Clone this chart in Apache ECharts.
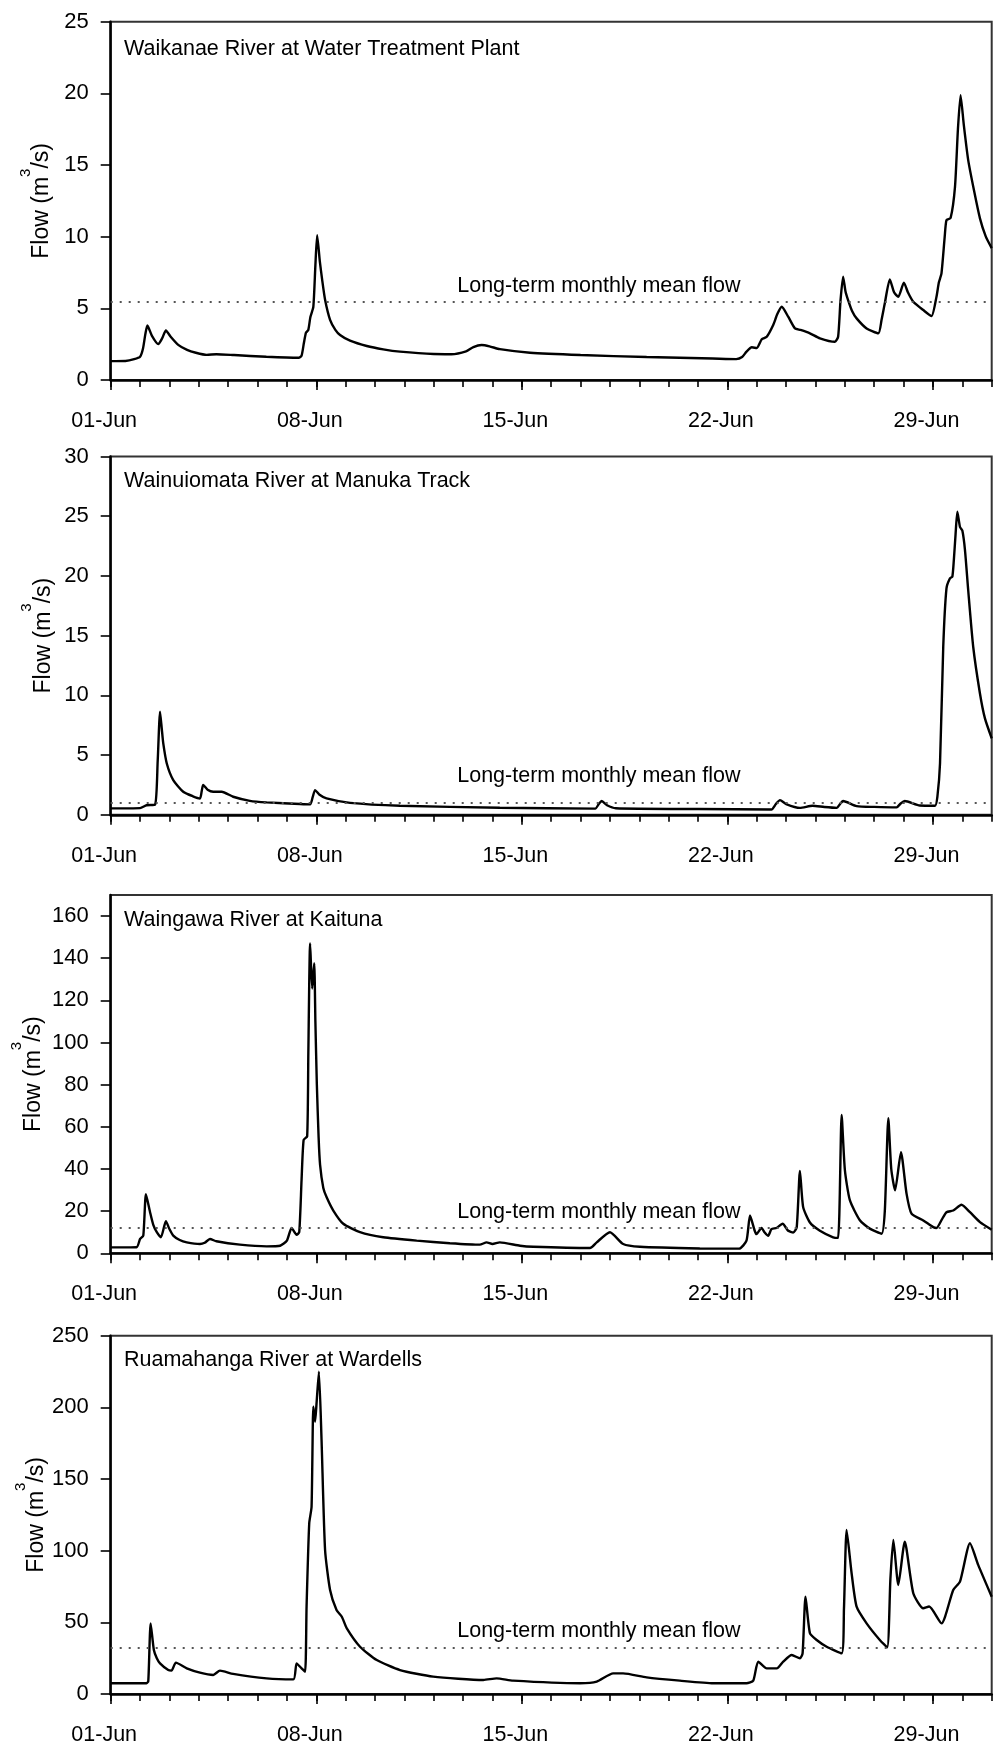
<!DOCTYPE html>
<html><head><meta charset="utf-8">
<script src="https://cdn.jsdelivr.net/npm/echarts@6/dist/echarts.min.js"></script>
<style>html,body{margin:0;padding:0;background:#fff}#c{width:996px;height:1751px}</style>
</head><body><div id="c"></div>
<script>
// ---------- data ----------
const stationNames = [
  'Waikanae River at Water Treatment Plant',
  'Wainuiomata River at Manuka Track',
  'Waingawa River at Kaituna',
  'Ruamahanga River at Wardells'
];
const dateLabels = ['01-Jun', '08-Jun', '15-Jun', '22-Jun', '29-Jun'];
const dateLabelDays = [0, 7, 14, 21, 28];   // days after 01-Jun 00:00
const meanLabel = 'Long-term monthly mean flow';
const meanFlows = [5.45, 1.05, 12, 32.5];
const yMax = [25, 30, 170, 250];
const yTicksWaikanae = [0, 5, 10, 15, 20, 25];
const yTicksWainuiomata = [0, 5, 10, 15, 20, 25, 30];
const yTicksWaingawa = [0, 20, 40, 60, 80, 100, 120, 140, 160];
const yTicksRuamahanga = [0, 50, 100, 150, 200, 250];

// [day since 01-Jun 00:00, flow m3/s]
const waikanae = [
  [0,1.32],[0.5,1.33],[0.8,1.45],[1.0,1.62],[1.1,2.2],[1.18,3.2],[1.25,3.8],[1.4,3.1],[1.62,2.5],[1.75,2.9],
  [1.88,3.45],[2.05,3.0],[2.3,2.45],[2.6,2.1],[2.9,1.9],[3.27,1.75],[3.6,1.8],[4.2,1.74],[5.3,1.62],[6.4,1.55],
  [6.5,1.7],[6.58,2.6],[6.65,3.3],[6.73,3.5],[6.8,4.4],[6.9,5.1],[6.97,8.0],[7.03,10.1],[7.12,8.3],[7.2,7.0],
  [7.3,5.6],[7.47,4.2],[7.65,3.5],[7.81,3.14],[8.15,2.74],[8.72,2.37],[9.28,2.14],[9.85,1.98],[11.0,1.81],[11.6,1.8],
  [12.1,2.0],[12.35,2.3],[12.63,2.44],[12.9,2.35],[13.25,2.15],[14.28,1.9],[16.0,1.74],[18.25,1.6],[20.5,1.5],[21.3,1.46],
  [21.5,1.6],[21.65,1.98],[21.83,2.28],[22.0,2.23],[22.17,2.84],[22.34,3.02],[22.56,3.84],[22.7,4.6],[22.85,5.11],[23.07,4.42],
  [23.3,3.6],[23.49,3.49],[23.81,3.26],[24.15,2.91],[24.66,2.67],[24.77,3.02],[24.85,5.5],[24.94,7.21],[25.02,6.2],[25.11,5.58],
  [25.25,4.8],[25.4,4.3],[25.74,3.6],[26.14,3.26],[26.25,4.2],[26.36,5.35],[26.53,7.02],[26.68,6.1],[26.82,5.81],[27.01,6.79],
  [27.15,6.1],[27.33,5.46],[27.67,4.88],[27.95,4.46],[28.12,5.81],[28.2,6.8],[28.29,7.44],[28.4,10.0],[28.46,11.16],[28.6,11.3],
  [28.75,13.48],[28.85,17.5],[28.94,19.87],[29.05,17.8],[29.2,15.34],[29.4,13.2],[29.6,11.28],[29.8,10.0],[30,9.2]
];
const wainuiomata = [
  [0,0.54],[1.0,0.56],[1.22,0.8],[1.51,0.85],[1.6,4.5],[1.68,8.63],[1.74,7.2],[1.79,5.98],[1.91,4.3],[2.13,2.91],
  [2.47,1.93],[2.8,1.55],[3.04,1.37],[3.1,2.0],[3.15,2.49],[3.3,2.1],[3.49,1.93],[3.78,1.93],[4.17,1.51],[4.74,1.17],
  [5.31,1.04],[6.45,0.9],[6.79,0.87],[6.88,1.5],[6.96,2.07],[7.1,1.7],[7.35,1.37],[8.15,1.0],[9.85,0.76],[13.25,0.59],
  [16.5,0.52],[16.62,0.9],[16.72,1.15],[16.9,0.8],[17.2,0.55],[20,0.48],[22.5,0.45],[22.65,0.9],[22.79,1.23],[23.0,0.9],
  [23.47,0.58],[23.9,0.76],[24.3,0.65],[24.72,0.58],[24.85,0.95],[24.94,1.15],[25.4,0.73],[26.0,0.66],[26.76,0.62],[26.9,0.95],
  [27.04,1.15],[27.55,0.78],[28.07,0.76],[28.15,1.5],[28.24,4.3],[28.35,14.07],[28.46,18.96],[28.58,19.8],[28.66,19.94],[28.71,21.3],
  [28.77,23.5],[28.83,25.38],[28.92,24.1],[29.0,23.8],[29.09,22.17],[29.2,18.8],[29.37,14.07],[29.6,10.16],[29.77,8.07],[30,6.4]
];
const waingawa = [
  [0,2.8],[0.88,2.9],[1.0,6.8],[1.11,8.4],[1.2,28],[1.34,19.5],[1.45,13.5],[1.57,10],[1.71,7.6],[1.88,15.2],
  [2.0,11.5],[2.13,8.4],[2.35,6.3],[2.59,5.2],[3.04,4.4],[3.2,5.0],[3.38,6.8],[3.6,5.7],[4.4,4.1],[5.31,3.3],
  [5.77,3.6],[6.0,6.0],[6.16,12.0],[6.33,8.8],[6.42,10],[6.5,35],[6.57,53.8],[6.69,55.5],[6.73,95],[6.79,147],
  [6.86,125.6],[6.93,137.6],[6.97,110],[7.02,80],[7.08,55],[7.13,42],[7.24,31],[7.35,26.7],[7.58,20.3],[7.92,14.0],
  [8.49,10],[9.28,7.6],[10.42,6.0],[11.55,4.8],[12.57,4.1],[12.8,5.2],[13.0,4.4],[13.25,5.2],[13.94,3.6],[14.39,3.1],
  [16.32,2.5],[16.55,5.2],[17.0,10.0],[17.45,4.4],[18.02,3.1],[20.06,2.3],[21.4,2.2],[21.65,6.0],[21.77,17.9],[21.93,10.7],
  [21.99,9.1],[22.16,12.0],[22.27,9.9],[22.39,8.3],[22.5,11.5],[22.67,12.0],[22.88,14.0],[23.07,10.7],[23.24,9.9],[23.36,12.3],
  [23.47,39.1],[23.58,21.9],[23.81,14.6],[24.15,10.7],[24.6,7.6],[24.77,7.3],[24.89,65.7],[25.0,39.6],[25.17,25.2],[25.51,15.7],
  [25.85,11.7],[26.25,9.3],[26.36,20],[26.48,64.1],[26.58,40],[26.71,29.9],[26.91,48],[27.1,28.3],[27.27,18.8],[27.67,15.6],
  [28.01,12.4],[28.12,12],[28.3,16],[28.46,19.5],[28.69,20.3],[28.97,23],[29.26,19.5],[29.6,14.8],[30,11.2]
];
const ruamahanga = [
  [0,7.5],[1.22,7.5],[1.28,9],[1.36,49.3],[1.47,30.7],[1.57,25],[1.68,21.4],[1.96,16.7],[2.07,16.3],[2.22,21.9],
  [2.59,17.9],[3.04,14.9],[3.49,13.3],[3.72,16.3],[4.17,14.0],[5.31,10.9],[6.22,10.2],[6.33,21.4],[6.5,17.9],[6.62,15.6],
  [6.67,61],[6.76,119],[6.84,130.7],[6.90,200.5],[6.96,190],[7.01,202.9],[7.09,224.9],[7.18,177.2],[7.30,100.5],[7.47,72.6],
  [7.69,58.6],[7.87,53.9],[8.04,45.8],[8.49,33.0],[9.06,23.7],[9.85,16.7],[10.98,12.1],[12.69,9.8],[13.14,10.9],[13.7,9.3],
  [15.98,7.5],[16.55,8.6],[17.11,14.4],[17.45,14.4],[18.25,11.6],[19.38,9.3],[20.52,7.5],[21.65,7.5],[21.88,9.3],[22.05,22.6],
  [22.34,17.9],[22.68,17.9],[22.9,22.6],[23.19,27.2],[23.47,24.9],[23.56,28.3],[23.66,67.9],[23.81,42.4],[24.04,37.7],[24.38,33.0],
  [24.89,28.4],[24.97,60],[25.06,114.4],[25.23,84.2],[25.40,60.9],[25.74,49.3],[26.19,37.7],[26.44,32.6],[26.55,80],[26.65,107.5],
  [26.82,76.1],[27.04,106.3],[27.33,70.3],[27.67,59.8],[27.87,61],[28.29,49.3],[28.69,72.6],[28.92,78.4],[29.26,105.2],[29.54,90.1],
  [30,67.9]
];
const seriesData = [waikanae, wainuiomata, waingawa, ruamahanga];
const yTicks = [yTicksWaikanae, yTicksWainuiomata, yTicksWaingawa, yTicksRuamahanga];

// ---------- layout / style ----------
const FF = '"Liberation Sans",Arial,sans-serif';
const FS = 21.5;
const gridTops = [21.7, 456.5, 895, 1335.7];
const gridH = 358.3, gridL = 110.7, gridW = 881;
const meanLabelDay = 11.8;
const meanLabelDy = [-27, -37, -27, -27];
const titleDy = [16.5, 13.6, 14.1, 13.4];
const nameGaps = [44.7, 43, 53, 49.7];

const grids = [], xAxes = [], yAxes = [], series = [], titles = [];
for (let i = 0; i < 4; i++) {
  grids.push({left: gridL, top: gridTops[i], width: gridW, height: gridH, show: true,
    borderColor: '#333', borderWidth: 2, backgroundColor: 'transparent',
    containLabel: false, outerBoundsMode: 'none'});
  titles.push({text: stationNames[i], left: 124, top: gridTops[i] + titleDy[i], padding: 0,
    textStyle: {fontFamily: FF, fontSize: FS, fontWeight: 'normal', color: '#000'}});
  // daily ticks axis
  xAxes.push({type: 'value', gridIndex: i, min: 0, max: 30, interval: 1, position: 'bottom',
    axisLine: {show: true, onZero: false, lineStyle: {color: '#000', width: 2.5}},
    axisTick: {show: true, length: 7, lineStyle: {color: '#000', width: 1.6}},
    axisLabel: {show: false}, splitLine: {show: false}});
  // labelled (weekly) axis
  xAxes.push({type: 'value', gridIndex: i, min: 0, max: 30, position: 'bottom',
    axisLine: {show: false},
    axisTick: {show: true, length: 10, customValues: dateLabelDays, lineStyle: {color: '#000', width: 1.6}},
    axisLabel: {show: true, customValues: dateLabelDays, margin: 30, padding: [0, 13, 0, 0],
      fontFamily: FF, fontSize: FS, color: '#000',
      formatter: v => dateLabels[dateLabelDays.indexOf(Math.round(v))] || ''},
    splitLine: {show: false}});
  yAxes.push({type: 'value', gridIndex: i, min: 0, max: yMax[i],
    name: '{a|Flow (m}{s|3}{a|/s)}', nameLocation: 'middle', nameGap: nameGaps[i], nameRotate: 90,
    nameMoveOverlap: false,
    nameTextStyle: {rich: {
      a: {fontFamily: FF, fontSize: 23, color: '#000', lineHeight: 48, verticalAlign: 'middle'},
      s: {fontFamily: FF, fontSize: 15, color: '#000', lineHeight: 15, verticalAlign: 'top'}}},
    axisLine: {show: true, onZero: false, lineStyle: {color: '#000', width: 2.5}},
    axisTick: {show: true, length: 10, customValues: yTicks[i], lineStyle: {color: '#000', width: 1.6}},
    axisLabel: {show: true, customValues: yTicks[i], margin: 22, fontFamily: FF, fontSize: 22, color: '#000'},
    splitLine: {show: false}});
  series.push({type: 'line', xAxisIndex: 2 * i, yAxisIndex: i, data: seriesData[i],
    showSymbol: false, symbol: 'none', smooth: 0.2, clip: true,
    lineStyle: {color: '#000', width: 2.4}, emphasis: {disabled: true},
    markLine: {silent: true, symbol: 'none', animation: false,
      label: {show: false},
      lineStyle: {color: '#555', width: 2, type: [2, 7]},
      emphasis: {disabled: true},
      data: [{yAxis: meanFlows[i]}]},
    markPoint: {silent: true, symbol: 'circle', symbolSize: 0, animation: false,
      itemStyle: {color: 'rgba(0,0,0,0)'},
      label: {show: true, position: [0, meanLabelDy[i]], formatter: meanLabel,
        fontFamily: FF, fontSize: FS, color: '#000'},
      data: [{coord: [meanLabelDay, meanFlows[i]]}]}
  });
}

const chart = echarts.init(document.getElementById('c'), null, {renderer: 'canvas'});
chart.setOption({backgroundColor: '#fff', animation: false, title: titles,
  grid: grids, xAxis: xAxes, yAxis: yAxes, series: series, tooltip: {show: false}});
</script></body></html>
